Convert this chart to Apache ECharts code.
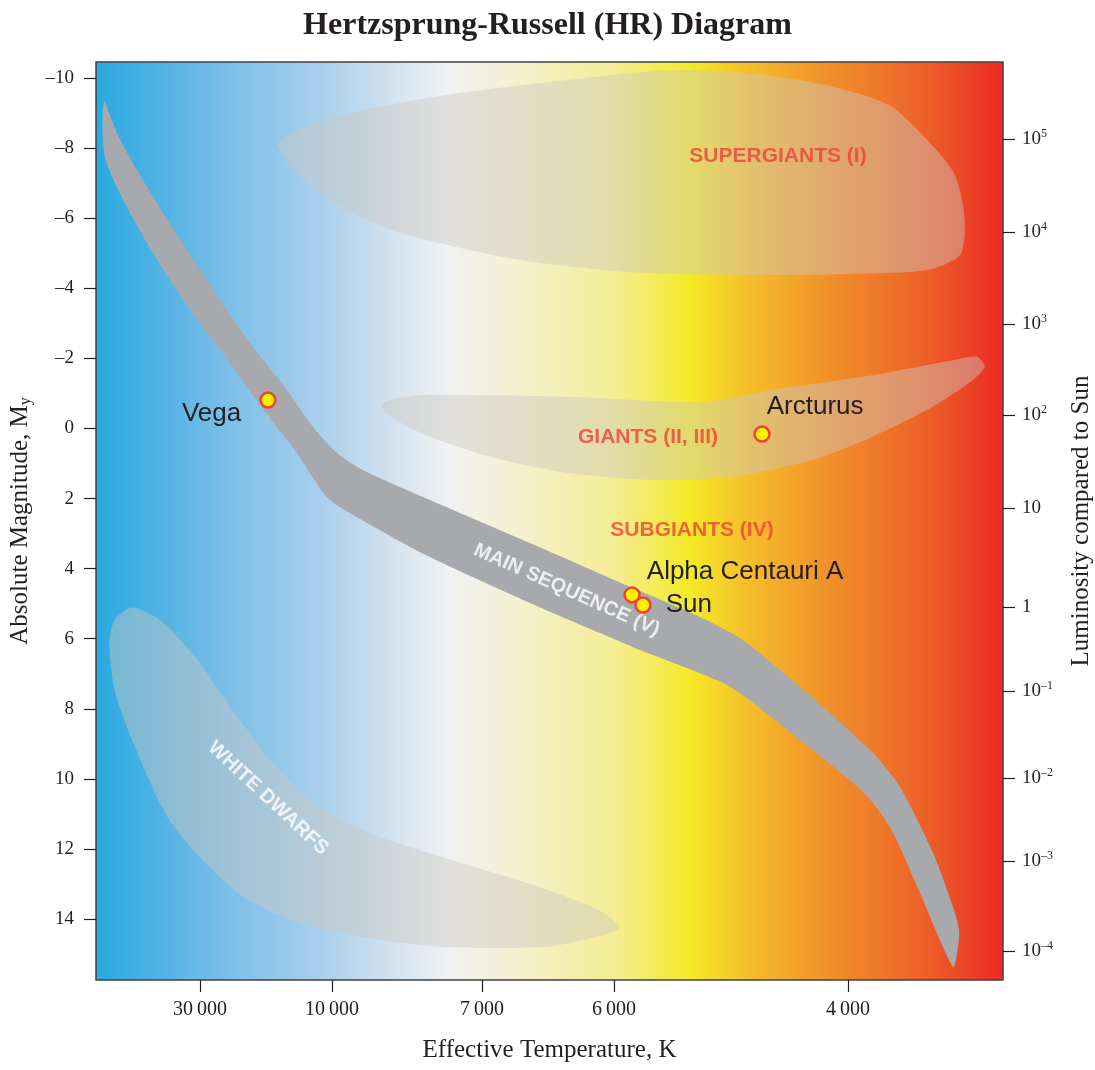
<!DOCTYPE html>
<html>
<head>
<meta charset="utf-8">
<script src="https://cdn.jsdelivr.net/npm/echarts@6/dist/echarts.min.js"></script>
<style>html,body{margin:0;padding:0;background:#fff}#chart{width:1095px;height:1070px}</style>
</head>
<body>
<div id="chart"></div>
<script>
// ---------- DATA ----------
// x axis: schematic position across the diagram (0..100), temperature tick labels placed on it
const tempTickPos = [11.47, 26.02, 42.56, 57.11, 82.91];
const tempTickLabels = ['30\u2009000', '10\u2009000', '7\u2009000', '6\u2009000', '4\u2009000'];
// left axis: absolute magnitude
const magTicks = [-10, -8, -6, -4, -2, 0, 2, 4, 6, 8, 10, 12, 14];
// right axis: luminosity (power of ten) at magnitude positions
const lumTickMag = [-8.26, -5.60, -2.98, -0.38, 2.28, 5.10, 7.50, 9.98, 12.35, 14.91];
const lumTickExp = [5, 4, 3, 2, 1, 0, -1, -2, -3, -4];

// stars
const starNames = ['Vega', 'Arcturus', 'Alpha Centauri A', 'Sun'];
const starX = [18.96, 73.43, 59.10, 60.31];
const starMag = [-0.81, 0.16, 4.75, 5.04];

// regions (outline points: [x position, magnitude])
const mainSequence = [
  [0.88,-9.32],[2.32,-8.43],[4.08,-7.57],[6.73,-6.43],[10.03,-5.09],[13.67,-3.66],[17.31,-2.32],
  [21.06,-1.10],[23.93,-0.04],[26.57,0.70],[29.44,1.19],[36.82,2.04],[47.85,3.27],[58.88,4.52],
  [66.59,5.38],[71.33,6.04],[77.62,7.38],[85.67,9.26],[88.64,10.23],[92.28,12.11],[94.49,13.66],
  [95.15,14.31],[95.04,14.80],[94.49,15.37],
  [90.85,13.26],[87.87,11.54],[85.67,10.69],[83.46,10.12],[77.62,8.89],[71.00,7.55],[68.47,7.18],
  [59.21,6.24],[55.57,5.84],[47.85,4.98],[36.82,3.67],[28.78,2.53],[25.47,1.96],[22.16,0.70],
  [19.74,-0.10],[17.31,-0.95],[13.67,-2.24],[10.03,-3.52],[6.28,-5.01],[3.42,-6.32],[0.99,-7.75]
];
const supergiants = [
  [20.11,-8.18],[25.68,-8.85],[38.34,-9.51],[53.52,-9.99],[63.64,-10.23],[73.76,-10.09],[81.36,-9.75],
  [87.43,-9.23],[91.49,-8.28],[94.52,-7.33],[95.53,-6.47],[95.79,-5.61],[95.28,-4.95],[92.50,-4.57],
  [88.95,-4.45],[73.76,-4.38],[58.58,-4.47],[45.92,-4.85],[33.26,-5.61],[26.68,-6.38],[21.61,-7.42]
];
const giants = [
  [31.53,-0.72],[35.52,-0.95],[52.36,-0.90],[66.98,-0.76],[74.51,-1.10],[85.58,-1.52],[94.44,-1.95],
  [97.10,-2.05],[97.98,-1.76],[96.65,-1.38],[92.23,-0.62],[85.58,0.24],[78.94,0.90],[70.08,1.38],
  [61.21,1.47],[52.36,1.28],[43.50,0.81],[35.96,0.14],[31.97,-0.43]
];
const whiteDwarfs = [
  [3.98,5.11],[7.08,5.47],[10.94,6.52],[15.58,8.23],[19.83,9.65],[24.09,10.70],[30.28,11.56],
  [38.02,12.22],[47.67,12.98],[55.41,13.74],[57.73,14.22],[56.57,14.41],[49.61,14.79],[38.02,14.79],
  [30.28,14.55],[22.54,14.12],[16.74,13.46],[12.09,12.41],[7.85,11.08],[3.98,8.89],[2.05,7.47],
  [1.47,6.13],[2.05,5.47]
];

// region labels
const regionNames = ['SUPERGIANTS (I)', 'GIANTS (II, III)', 'SUBGIANTS (IV)', 'MAIN SEQUENCE (V)', 'WHITE DWARFS'];
const regionX = [75.19, 60.86, 65.71, 51.90, 18.96];
const regionMag = [-7.77, 0.25, 2.90, 4.61, 10.55];

// ---------- STYLES ----------
const ink = '#231f20';
const serif = "'Liberation Serif', 'Times New Roman', serif";
const sans = "'Liberation Sans', Arial, sans-serif";
const regionFill = 'rgba(205,200,192,0.45)';
const labelStyles = {
  'SUPERGIANTS (I)': { color: '#ef4136', rotate: 0, fontSize: 21 },
  'GIANTS (II, III)': { color: '#ef4136', rotate: 0, fontSize: 21 },
  'SUBGIANTS (IV)': { color: '#ef4136', rotate: 0, fontSize: 21 },
  'MAIN SEQUENCE (V)': { color: '#ffffff', rotate: -24, fontSize: 20 },
  'WHITE DWARFS': { color: '#ffffff', rotate: -43, fontSize: 20 }
};
const starLabelStyles = {
  'Vega': { position: 'left', distance: 18, offset: [0, 14] },
  'Arcturus': { position: 'right', distance: 5, offset: [-9, -27] },
  'Alpha Centauri A': { position: 'right', distance: 5, offset: [1, -23] },
  'Sun': { position: 'right', distance: 5, offset: [9, 0] }
};

function findIdx(arr, v) {
  let best = 0, bd = Infinity;
  arr.forEach((a, i) => { const d = Math.abs(a - v); if (d < bd) { bd = d; best = i; } });
  return best;
}

function polygonSeries(points, fill, z) {
  return {
    type: 'custom',
    coordinateSystem: 'cartesian2d',
    silent: true,
    z: z,
    data: points,
    encode: { x: 0, y: 1 },
    renderItem: function (params, api) {
      if (params.dataIndex !== 0) return null;
      const pts = points.map(p => api.coord(p));
      const cs = params.coordSys;
      return {
        type: 'polygon',
        shape: { points: pts, smooth: 0.25 },
        style: { fill: fill },
        clipPath: { type: 'rect', shape: { x: cs.x, y: cs.y, width: cs.width, height: cs.height } }
      };
    }
  };
}

const chart = echarts.init(document.getElementById('chart'), null, { renderer: 'canvas' });

const option = {
  animation: false,
  title: {
    text: 'Hertzsprung-Russell (HR) Diagram',
    left: 'center',
    top: 5,
    textStyle: { fontFamily: serif, fontWeight: 'bold', fontSize: 32, color: ink }
  },
  grid: {
    left: 96, right: 92, top: 62, bottom: 90,
    outerBoundsMode: 'none',
    containLabel: false,
    show: true,
    borderColor: '#414042',
    borderWidth: 1.5,
    backgroundColor: {
      type: 'linear', x: 0, y: 0, x2: 1, y2: 0,
      colorStops: [
        { offset: 0.00, color: '#29a9e0' },
        { offset: 0.06, color: '#4ab1e4' },
        { offset: 0.15, color: '#7ebfe8' },
        { offset: 0.25, color: '#a9d0ec' },
        { offset: 0.32, color: '#cfe0ef' },
        { offset: 0.39, color: '#f1f2f3' },
        { offset: 0.47, color: '#f4f0cc' },
        { offset: 0.57, color: '#f5ed95' },
        { offset: 0.655, color: '#f4ea26' },
        { offset: 0.72, color: '#f5bd2b' },
        { offset: 0.81, color: '#f08f2a' },
        { offset: 0.91, color: '#ed6228' },
        { offset: 1.00, color: '#ec2a24' }
      ]
    }
  },
  xAxis: {
    type: 'value',
    min: 0, max: 100,
    name: 'Effective Temperature, K',
    nameLocation: 'middle',
    nameGap: 58,
    nameTextStyle: { fontFamily: serif, fontSize: 25, color: ink },
    axisLine: { show: false, onZero: false },
    splitLine: { show: false },
    axisTick: { show: true, customValues: tempTickPos, length: 12, lineStyle: { color: ink, width: 1.2 } },
    axisLabel: {
      customValues: tempTickPos,
      margin: 20,
      fontFamily: serif, fontSize: 20, color: ink,
      formatter: v => tempTickLabels[findIdx(tempTickPos, v)]
    }
  },
  yAxis: [
    {
      type: 'value',
      inverse: true,
      min: -10.46, max: 15.74,
      position: 'left',
      name: 'Absolute Magnitude, M{sub|y}',
      nameLocation: 'middle',
      nameGap: 62,
      nameRotate: 90,
      nameTextStyle: {
        fontFamily: serif, fontSize: 25, color: ink,
        rich: { sub: { fontFamily: serif, fontSize: 16, color: ink, padding: [12, 0, 0, 0] } }
      },
      axisLine: { show: false, onZero: false },
      splitLine: { show: false },
      axisTick: { show: true, customValues: magTicks, length: 12, lineStyle: { color: ink, width: 1.2 } },
      axisLabel: {
        customValues: magTicks,
        margin: 22,
        fontFamily: serif, fontSize: 19, color: ink,
        formatter: v => (v < 0 ? '\u2013' + Math.abs(v) : String(v))
      }
    },
    {
      type: 'value',
      inverse: true,
      min: -10.46, max: 15.74,
      position: 'right',
      name: 'Luminosity compared to Sun',
      nameLocation: 'middle',
      nameGap: 66,
      nameRotate: 90,
      nameTextStyle: { fontFamily: serif, fontSize: 25, color: ink },
      axisLine: { show: false, onZero: false },
      splitLine: { show: false },
      axisTick: { show: true, customValues: lumTickMag, length: 12, lineStyle: { color: ink, width: 1.2 } },
      axisLabel: {
        customValues: lumTickMag,
        margin: 19,
        fontFamily: serif, fontSize: 19, color: ink,
        formatter: v => {
          const e = lumTickExp[findIdx(lumTickMag, v)];
          if (e === 1) return '10';
          if (e === 0) return '1';
          return '10{sup|' + (e < 0 ? '\u2013' + Math.abs(e) : e) + '}';
        },
        rich: { sup: { fontFamily: serif, fontSize: 12, color: ink, padding: [0, 0, 10, 0] } }
      }
    }
  ],
  series: [
    polygonSeries(supergiants, regionFill, 1),
    polygonSeries(giants, regionFill, 1),
    polygonSeries(whiteDwarfs, regionFill, 1),
    polygonSeries(mainSequence, '#a7a9ac', 2),
    {
      type: 'scatter',
      z: 5,
      silent: true,
      symbolSize: 0,
      data: regionNames.map((n, i) => {
        const s = labelStyles[n];
        return {
          name: n,
          value: [regionX[i], regionMag[i]],
          label: { rotate: s.rotate, color: s.color, fontSize: s.fontSize }
        };
      }),
      label: {
        show: true,
        position: 'inside',
        align: 'center',
        verticalAlign: 'middle',
        fontFamily: sans,
        fontWeight: 'bold',
        formatter: p => p.name
      }
    },
    {
      type: 'scatter',
      z: 6,
      silent: true,
      symbol: 'circle',
      symbolSize: 15,
      itemStyle: { color: '#fff200', borderColor: '#ef4136', borderWidth: 2.5, opacity: 1 },
      data: starNames.map((n, i) => {
        const s = starLabelStyles[n];
        return {
          name: n,
          value: [starX[i], starMag[i]],
          label: { position: s.position, distance: s.distance, offset: s.offset }
        };
      }),
      label: {
        show: true,
        fontFamily: sans,
        fontSize: 26,
        color: ink,
        formatter: p => p.name
      }
    }
  ]
};

chart.setOption(option);
</script>
</body>
</html>
